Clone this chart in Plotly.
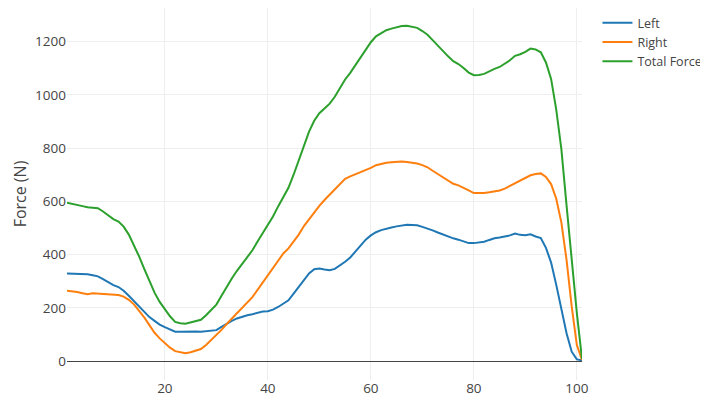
import plotly.graph_objects as go

x = list(range(1, 102))

left = [329, 328, 328, 327, 326, 322, 318, 308, 297, 285,
        278, 264, 245, 224, 203, 182, 165, 151, 137, 127,
        118, 110, 110, 111, 112, 111, 110, 112, 114, 116,
        128, 141, 151, 160, 167, 172, 176, 182, 186, 187,
        193, 203, 214, 228, 253, 277, 303, 329, 345, 348,
        344, 341, 346, 358, 373, 389, 411, 434, 456, 472,
        484, 492, 498, 502, 506, 509, 512, 511, 510, 504,
        498, 491, 483, 475, 467, 461, 456, 449, 443, 443,
        445, 448, 455, 461, 464, 468, 472, 479, 474, 473,
        476, 468, 462, 425, 370, 286, 190, 104, 35, 6, 3]

right = [264, 262, 259, 255, 251, 255, 254, 251, 250, 249,
         248, 242, 230, 213, 190, 164, 135, 106, 85, 66,
         50, 37, 32, 29, 33, 38, 45, 60, 78, 96,
         117, 139, 159, 179, 198, 218, 240, 267, 294, 321,
         350, 378, 404, 423, 447, 475, 507, 533, 558, 583,
         605, 626, 647, 666, 685, 694, 702, 709, 716, 726,
         736, 741, 745, 747, 749, 750, 748, 746, 742, 736,
         728, 715, 702, 689, 678, 666, 660, 652, 641, 631,
         630, 631, 634, 637, 641, 648, 658, 668, 679, 689,
         698, 703, 705, 692, 665, 610, 520, 380, 205, 60, 4]

total = [595, 590, 586, 582, 578, 577, 574, 562, 548, 533,
         524, 505, 475, 437, 393, 346, 300, 257, 222, 193,
         168, 147, 142, 140, 145, 149, 155, 172, 192, 212,
         245, 280, 310, 339, 365, 390, 416, 449, 480, 508,
         543, 581, 618, 651, 700, 752, 810, 862, 903, 931,
         949, 967, 993, 1024, 1058, 1083, 1113, 1143, 1172, 1198,
         1220, 1233, 1243, 1249, 1255, 1259, 1260, 1257, 1252, 1240,
         1226, 1206, 1185, 1164, 1145, 1127, 1116, 1101, 1084, 1074,
         1075, 1079, 1089, 1098, 1105, 1116, 1130, 1147, 1153, 1162,
         1174, 1171, 1160, 1122, 1060, 945, 795, 585, 380, 180, 8]

fig = go.Figure()
fig.add_trace(go.Scatter(x=x, y=left, mode="lines", name="Left",
                         line=dict(color="#1f77b4", width=2)))
fig.add_trace(go.Scatter(x=x, y=right, mode="lines", name="Right",
                         line=dict(color="#ff7f0e", width=2)))
fig.add_trace(go.Scatter(x=x, y=total, mode="lines", name="Total Force",
                         line=dict(color="#2ca02c", width=2)))

# page body adds an 8px offset, so the figure is 700x388
fig.update_layout(
    width=700, height=388,
    margin=dict(l=59, r=126, t=0, b=16, autoexpand=False),
    paper_bgcolor="white", plot_bgcolor="white",
    font=dict(family="Open Sans, sans-serif", size=13.5, color="#444"),
    legend=dict(font=dict(size=12.5), x=1.03, y=1, xanchor="left", yanchor="top"),
    xaxis=dict(range=[1, 101], showgrid=True, gridcolor="#eee",
               tickvals=[20, 40, 60, 80, 100], zeroline=False,
               showline=False, ticks="", automargin=False,
               ticklabelstandoff=-2),
    yaxis=dict(range=[-71.4, 1326.6], showgrid=True, gridcolor="#eee",
               tickvals=[0, 200, 400, 600, 800, 1000, 1200],
               zeroline=True, zerolinecolor="#444", zerolinewidth=1,
               automargin=False,
               title=dict(text="Force (N)", font=dict(size=16), standoff=4)),
)

fig.write_html("out.html")
